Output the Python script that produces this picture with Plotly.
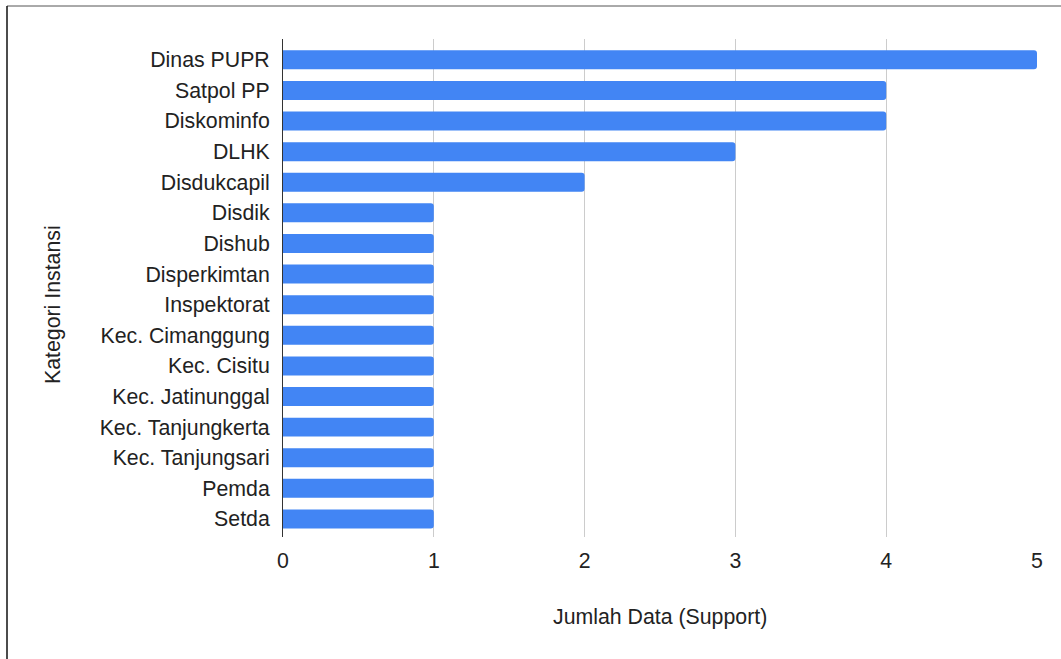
import plotly.graph_objects as go

categories = ["Dinas PUPR", "Satpol PP", "Diskominfo", "DLHK", "Disdukcapil",
              "Disdik", "Dishub", "Disperkimtan", "Inspektorat", "Kec. Cimanggung",
              "Kec. Cisitu", "Kec. Jatinunggal", "Kec. Tanjungkerta", "Kec. Tanjungsari",
              "Pemda", "Setda"]
values = [5, 4, 4, 3, 2, 1, 1, 1, 1, 1, 1, 1, 1, 1, 1, 1]
x_ticks = [0, 1, 2, 3, 4, 5]
x_title = "Jumlah Data (Support)"
y_title = "Kategori Instansi"

W, H = 1061, 659
L, R, T, B = 283, 1037, 39, 537
FONT = "Liberation Sans, Arial, sans-serif"
FS = 21.3
TXT = "#222222"

def px(x):
    return (x - L) / (R - L)

def py(y):
    return (B - y) / (B - T)

fig = go.Figure(go.Bar(
    x=values, y=categories, orientation="h",
    marker=dict(color="#4285F4", line=dict(width=0)),
    hoverinfo="x+y",
))

fig.update_layout(
    width=W, height=H,
    margin=dict(l=L, r=W - R, t=T, b=H - B, pad=0),
    paper_bgcolor="white", plot_bgcolor="white",
    bargap=0.38, barcornerradius=3,
    showlegend=False,
    font=dict(family=FONT, size=FS, color=TXT),
    xaxis=dict(
        range=[0, 5], tickvals=x_ticks, ticktext=[str(v) for v in x_ticks],
        showgrid=True, gridcolor="#cccccc", gridwidth=1,
        zeroline=False, showline=False, ticks="",
        ticklabelstandoff=9,
        tickfont=dict(family=FONT, size=FS, color=TXT),
        fixedrange=True,
    ),
    yaxis=dict(
        type="category", categoryorder="array", categoryarray=categories,
        range=[len(categories) - 0.41, -0.68],
        showgrid=False, zeroline=False, ticks="",
        showline=True, linecolor="#333333", linewidth=1,
        ticklabelstandoff=8,
        tickfont=dict(family=FONT, size=FS, color=TXT),
        fixedrange=True,
    ),
    annotations=[
        dict(text=x_title, xref="paper", yref="paper", x=0.5, y=py(617),
             xanchor="center", yanchor="middle", showarrow=False,
             font=dict(family=FONT, size=FS, color=TXT)),
        dict(text=y_title, xref="paper", yref="paper", x=px(53), y=py(304),
             xanchor="center", yanchor="middle", showarrow=False, textangle=-90,
             font=dict(family=FONT, size=FS, color=TXT)),
    ],
    shapes=[
        dict(type="line", xref="paper", yref="paper", x0=px(7), x1=px(1062),
             y0=py(6), y1=py(6), line=dict(color="#555555", width=1)),
        dict(type="line", xref="paper", yref="paper", x0=px(7), x1=px(7),
             y0=py(6), y1=py(660), line=dict(color="#111111", width=1.5)),
    ],
)

fig.write_html("out.html")
